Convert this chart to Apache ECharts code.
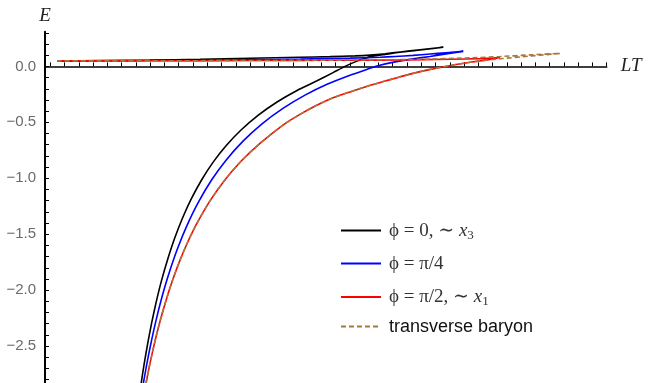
<!DOCTYPE html>
<html><head><meta charset="utf-8">
<script src="https://cdn.jsdelivr.net/npm/echarts@6/dist/echarts.min.js"></script>
<style>html,body{margin:0;padding:0;background:#fff}#c{width:648px;height:383px}</style>
</head><body><div id="c"></div>
<script>
// ---- axis ticks / labels ----
const xLabelValues = [0.01, 0.02, 0.03, 0.04, 0.05, 0.06, 0.07, 0.08];
const xTickValues = [0.002, 0.004, 0.006, 0.008, 0.01, 0.012, 0.014, 0.016, 0.018, 0.02, 0.022, 0.024, 0.026, 0.028, 0.03, 0.032, 0.034, 0.036, 0.038, 0.04, 0.042, 0.044, 0.046, 0.048, 0.05, 0.052, 0.054, 0.056, 0.058, 0.06, 0.062, 0.064, 0.066, 0.068, 0.07, 0.072, 0.074, 0.076, 0.078, 0.08];
const yLabelValues = [-2.5, -2.0, -1.5, -1.0, -0.5, 0.0];
const yTickValues = [-2.8, -2.7, -2.6, -2.5, -2.4, -2.3, -2.2, -2.1, -2.0, -1.9, -1.8, -1.7, -1.6, -1.5, -1.4, -1.3, -1.2, -1.1, -1.0, -0.9, -0.8, -0.7, -0.6, -0.5, -0.4, -0.3, -0.2, -0.1, 0.0, 0.1, 0.2, 0.3];

// ---- series data (LT, E): lower branch -> cusp -> upper branch ----
const phi0LT = [0.01472, 0.01482, 0.01514, 0.01563, 0.01619, 0.01682, 0.01759, 0.01844, 0.01942, 0.02054, 0.02180, 0.02323, 0.02481, 0.02664, 0.02874, 0.03112, 0.03379, 0.03659, 0.03939, 0.04164, 0.04332, 0.04500, 0.04683, 0.04893, 0.05103, 0.05383, 0.05710,
                0.05383, 0.05103, 0.04893, 0.04683, 0.04472, 0.04122, 0.03701, 0.03000, 0.02299, 0.01598, 0.00897, 0.00294];
const phi0E  = [-2.841, -2.799, -2.668, -2.486, -2.300, -2.114, -1.915, -1.728, -1.539, -1.355, -1.180, -1.013, -0.858, -0.710, -0.569, -0.4375, -0.318, -0.215, -0.129, -0.056, 0.000, 0.047, 0.085, 0.107, 0.127, 0.147, 0.171,
                0.149, 0.129, 0.113, 0.101, 0.094, 0.087, 0.082, 0.073, 0.063, 0.056, 0.052, 0.049];

const phi4LT = [0.01504, 0.01514, 0.01549, 0.01598, 0.01654, 0.01717, 0.01794, 0.01886, 0.01991, 0.02117, 0.02271, 0.02463, 0.02664, 0.02902, 0.03168, 0.03467, 0.03771, 0.04080, 0.04402, 0.04636, 0.04781, 0.05033, 0.05285, 0.05524, 0.05748, 0.05990,
                0.05748, 0.05524, 0.05285, 0.05033, 0.04823, 0.04402, 0.03701, 0.03000, 0.02299, 0.01598, 0.00897, 0.00294];
const phi4E  = [-2.836, -2.799, -2.675, -2.515, -2.348, -2.180, -1.996, -1.806, -1.616, -1.421, -1.220, -1.013, -0.838, -0.668, -0.513, -0.373, -0.257, -0.160, -0.079, -0.027, 0.004, 0.040, 0.067, 0.089, 0.112, 0.134,
                0.122, 0.110, 0.098, 0.089, 0.082, 0.074, 0.065, 0.059, 0.054, 0.052, 0.050, 0.049];

const phi2LT = [0.01542, 0.01552, 0.01591, 0.01640, 0.01696, 0.01760, 0.01830, 0.01914, 0.02012, 0.02124, 0.02257, 0.02439, 0.02650, 0.02874, 0.03140, 0.03467, 0.03701, 0.03935, 0.04164, 0.04402, 0.04636, 0.04869, 0.05061, 0.05243, 0.05510, 0.05776, 0.06000, 0.06225, 0.06365, 0.06505,
                0.06225, 0.05804, 0.05103, 0.04402, 0.03701, 0.02299, 0.00897, 0.00294];
const phi2E  = [-2.831, -2.799, -2.675, -2.532, -2.382, -2.229, -2.076, -1.912, -1.743, -1.574, -1.401, -1.202, -1.013, -0.848, -0.688, -0.522, -0.429, -0.348, -0.281, -0.228, -0.179, -0.136, -0.101, -0.069, -0.029, 0.004, 0.028, 0.049, 0.0625, 0.079,
                0.069, 0.064, 0.058, 0.055, 0.054, 0.051, 0.049, 0.049];

const baryonLT = [0.01542, 0.01552, 0.01591, 0.01640, 0.01696, 0.01760, 0.01830, 0.01914, 0.02012, 0.02124, 0.02257, 0.02439, 0.02650, 0.02874, 0.03140, 0.03467, 0.03701, 0.03935, 0.04164, 0.04402, 0.04636, 0.04869, 0.05061, 0.05243, 0.05510, 0.05776, 0.06000, 0.06225, 0.06505, 0.06926, 0.07346,
                  0.06926, 0.06505, 0.06085, 0.05524, 0.05103, 0.03701, 0.02299, 0.00897, 0.00294];
const baryonE  = [-2.831, -2.799, -2.675, -2.532, -2.382, -2.229, -2.076, -1.912, -1.743, -1.574, -1.401, -1.202, -1.013, -0.848, -0.688, -0.522, -0.429, -0.348, -0.281, -0.228, -0.179, -0.136, -0.101, -0.069, -0.029, 0.004, 0.028, 0.049, 0.068, 0.092, 0.116,
                  0.103, 0.088, 0.076, 0.065, 0.060, 0.054, 0.051, 0.049, 0.049];

const seriesNames = ['phi0', 'phi4', 'phi2', 'baryon'];
const legendTexts = {
  phi0: '{m|ϕ = 0, ∼ }{i|x}{s|3}',
  phi4: '{m|ϕ = π/4}',
  phi2: '{m|ϕ = π/2, ∼ }{i|x}{s|1}',
  baryon: '{t|transverse baryon}'
};

function pairs(a, b) { return a.map((v, i) => [v, b[i]]); }

const chart = echarts.init(document.getElementById('c'));
const serif = 'Liberation Serif, DejaVu Serif, serif';
const sans = 'Liberation Sans, Arial, Helvetica, sans-serif';
const minus = v => String(v).replace('-', '\u2212');

const rich = {
  m: { fontFamily: serif, fontSize: 19, color: '#333', lineHeight: 22, verticalAlign: 'middle' },
  i: { fontFamily: serif, fontStyle: 'italic', fontSize: 19, color: '#333', lineHeight: 22, verticalAlign: 'middle' },
  s: { fontFamily: serif, fontSize: 13, color: '#333', lineHeight: 13, verticalAlign: 'bottom' },
  t: { fontFamily: sans, fontSize: 18, color: '#111', lineHeight: 22, verticalAlign: 'middle' }
};
const legendRowsY = [233, 266, 299.5, 329];
const legends = seriesNames.map((n, k) => ({
  data: [n], left: 340, top: legendRowsY[k] - 12, padding: 0,
  itemWidth: 40, itemHeight: 24, selectedMode: false,
  itemStyle: { opacity: 0 },
  formatter: name => legendTexts[name],
  textStyle: { rich: rich, padding: [0, 0, 0, 3] }
}));

const mkSeries = (name, lt, e, color, type) => ({
  name: name, type: 'line', data: pairs(lt, e), symbol: 'none', smooth: 0.2,
  clip: true, animation: false,
  lineStyle: { color: color, width: 1.6, type: type || 'solid' },
  itemStyle: { color: color }
});

chart.setOption({
  animation: false,
  grid: { left: 45, right: 41.3, top: 31.7, bottom: 0, containLabel: false, outerBoundsMode: 'none' },
  legend: legends,
  xAxis: {
    type: 'value', min: 0.00126, max: 0.08,
    name: 'LT', nameLocation: 'end', nameGap: 14,
    nameTextStyle: { fontFamily: serif, fontStyle: 'italic', fontSize: 19, color: '#222' },
    axisLine: { onZero: true, lineStyle: { color: '#000', width: 1.6 } },
    axisTick: { inside: true, length: 4, customValues: xTickValues, lineStyle: { color: '#000', width: 1 } },
    axisLabel: { customValues: xLabelValues, margin: 6, color: '#6a6a6a', fontFamily: sans, fontSize: 15, formatter: v => v.toFixed(2) },
    splitLine: { show: false }
  },
  yAxis: {
    type: 'value', min: -2.83, max: 0.31,
    name: 'E', nameLocation: 'end', nameGap: 6,
    nameTextStyle: { fontFamily: serif, fontStyle: 'italic', fontSize: 19, color: '#222', align: 'center' },
    axisLine: { onZero: false, lineStyle: { color: '#000', width: 2 } },
    axisTick: { inside: true, length: 4, customValues: yTickValues, lineStyle: { color: '#000', width: 1 } },
    axisLabel: { customValues: yLabelValues, margin: 9, color: '#6a6a6a', fontFamily: sans, fontSize: 15, formatter: v => minus(v.toFixed(1)) },
    splitLine: { show: false }
  },
  series: [
    mkSeries('phi0', phi0LT, phi0E, '#000000'),
    mkSeries('phi4', phi4LT, phi4E, '#0000ff'),
    mkSeries('phi2', phi2LT, phi2E, '#ff0000'),
    mkSeries('baryon', baryonLT, baryonE, '#a8763e', [5, 3])
  ]
});
</script></body></html>
